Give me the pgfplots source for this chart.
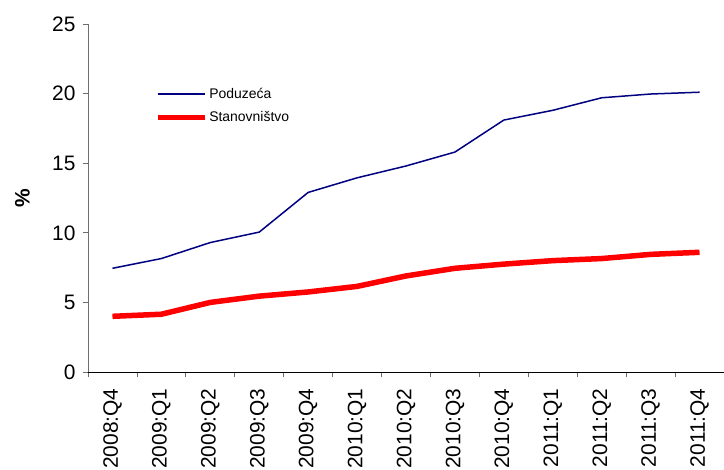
\documentclass[border=0pt]{standalone}
\usepackage{fontspec}
\setmainfont{Liberation Sans}
\usepackage{pgfplots}
\pgfplotsset{compat=1.18}
\definecolor{podblue}{RGB}{0,0,128}
\definecolor{stanred}{RGB}{255,0,0}
\definecolor{axgray}{RGB}{110,110,110}
\begin{document}
\begin{tikzpicture}
\useasboundingbox (-88bp,-98bp) rectangle (636bp,372bp);
\begin{axis}[
  at={(0,0)}, anchor=south west, scale only axis,
  width=636bp, height=348bp,
  xmin=-0.5, xmax=12.5, ymin=0, ymax=25,
  axis x line*=bottom, axis y line*=left,
  x axis line style={black,-},
  y axis line style={axgray,-},
  tick align=outside, major tick length=5bp,
  tick style={axgray, line width=0.8bp},
  xtick={-0.5,0.5,...,12.5},
  x tick label as interval,
  xticklabels={2008:Q4,2009:Q1,2009:Q2,2009:Q3,2009:Q4,2010:Q1,2010:Q2,2010:Q3,2010:Q4,2011:Q1,2011:Q2,2011:Q3,2011:Q4},
  xticklabel style={rotate=90, anchor=east, font=\fontsize{21}{25}\selectfont},
  xticklabel shift=8bp,
  ytick={0,5,...,25},
  yticklabel style={font=\fontsize{21}{25}\selectfont},
  yticklabel shift=4bp,
  /pgf/number format/assume math mode=true,
  ylabel={\textbf{\%}},
  ylabel style={at={(axis description cs:-0.103,0.5)}, anchor=center, font=\fontsize{21}{25}\selectfont},
  legend style={at={(axis description cs:0.10,0.828)}, anchor=north west, draw=none, fill=none,
    font=\fontsize{14}{17}\selectfont, row sep=8bp, cells={anchor=west}},
  legend image code/.code={\draw[#1] (0bp,0bp) -- (47bp,0bp);},
]
\addplot[podblue, line width=1.5bp] coordinates {
  (0,7.45) (1,8.15) (2,9.3) (3,10.05) (4,12.9) (5,13.95) (6,14.8)
  (7,15.8) (8,18.1) (9,18.8) (10,19.7) (11,19.97) (12,20.1)};
\addlegendentry{Poduzeća}
\addplot[stanred, line width=5.5bp] coordinates {
  (0,4.0) (1,4.15) (2,5.0) (3,5.45) (4,5.75) (5,6.15) (6,6.9)
  (7,7.45) (8,7.75) (9,8.0) (10,8.15) (11,8.45) (12,8.6)};
\addlegendentry{Stanovništvo}
\end{axis}
\end{tikzpicture}
\end{document}
